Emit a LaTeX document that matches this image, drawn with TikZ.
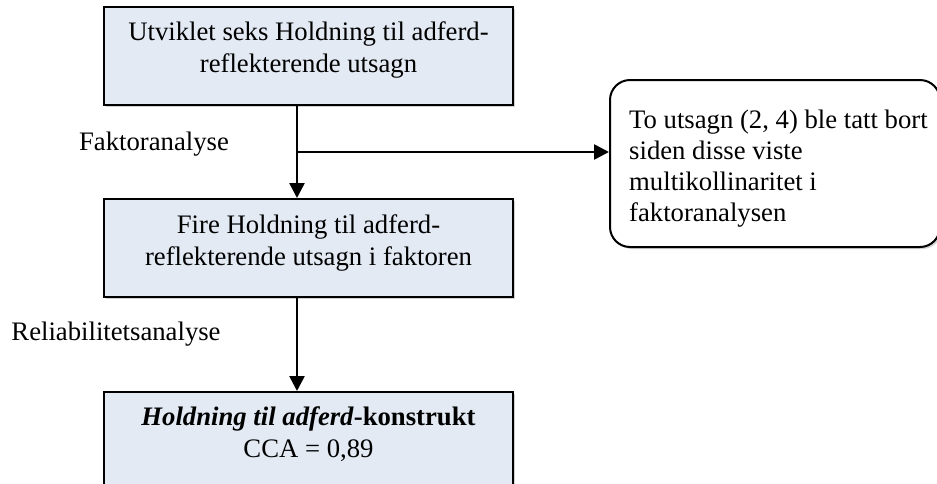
\documentclass[tikz,border=0pt]{standalone}
\usepackage{fontspec}
\setmainfont{Liberation Serif}
\usetikzlibrary{arrows.meta,shadows}
\definecolor{boxfill}{HTML}{E3EAF4}
\tikzset{
  stepbox/.style={draw=black, line width=2pt, fill=boxfill,
    minimum width=409pt, minimum height=98pt, inner sep=0pt,
    drop shadow={shadow xshift=2pt, shadow yshift=-2pt, fill=black, opacity=0.18}},
  notebox/.style={draw=black, line width=2pt, fill=white, rounded corners=20pt,
    minimum width=330pt, minimum height=167pt, inner sep=0pt,
    drop shadow={shadow xshift=2pt, shadow yshift=-2pt, fill=black, opacity=0.18}},
  boxtext/.style={align=center, inner sep=0pt, font=\fontsize{26.7}{32}\selectfont},
  notetext/.style={align=left, inner sep=0pt, anchor=west, font=\fontsize{26.7}{31}\selectfont},
  steplabel/.style={inner sep=0pt, font=\fontsize{26.7}{32}\selectfont},
  arr/.style={line width=2.6pt, -{Triangle[length=15pt,width=15pt]}},
}
\begin{document}
\begin{tikzpicture}[x=1pt, y=-1pt]
  \useasboundingbox (0,0) rectangle (937,483);
  \clip (0,0) rectangle (937,483);

  % process boxes
  \node[stepbox] (b1) at (308.5,56) {};
  \node[boxtext] (t1) at (308.5,50) {Utviklet seks Holdning til adferd-\\reflekterende utsagn};

  \node[stepbox] (b2) at (308.5,248) {};
  \node[boxtext] (t2) at (308.5,243) {Fire Holdning til adferd-\\reflekterende utsagn i faktoren};

  \node[stepbox] (b3) at (308.5,441) {};
  \node[boxtext] (t3) at (308.5,434) {\textbf{\textit{Holdning til adferd}-konstrukt}\\CCA = 0,89};

  % side note
  \node[notebox] (n) at (775,163.5) {};
  \node[notetext] (nt) at (629,169) {To utsagn (2, 4) ble tatt bort\\siden disse viste\\multikollinaritet i\\faktoranalysen};

  % step labels
  \node[steplabel] (l1) at (154,144) {Faktoranalyse};
  \node[steplabel] (l2) at (116,334) {Reliabilitetsanalyse};

  % connectors
  \coordinate (j) at (297,152);
  \draw[arr] (b1.south -| j) -- (b2.north -| j);
  \draw[arr] (j) -- (j -| n.west);
  \draw[arr] (b2.south -| j) -- (b3.north -| j);
\end{tikzpicture}
\end{document}
